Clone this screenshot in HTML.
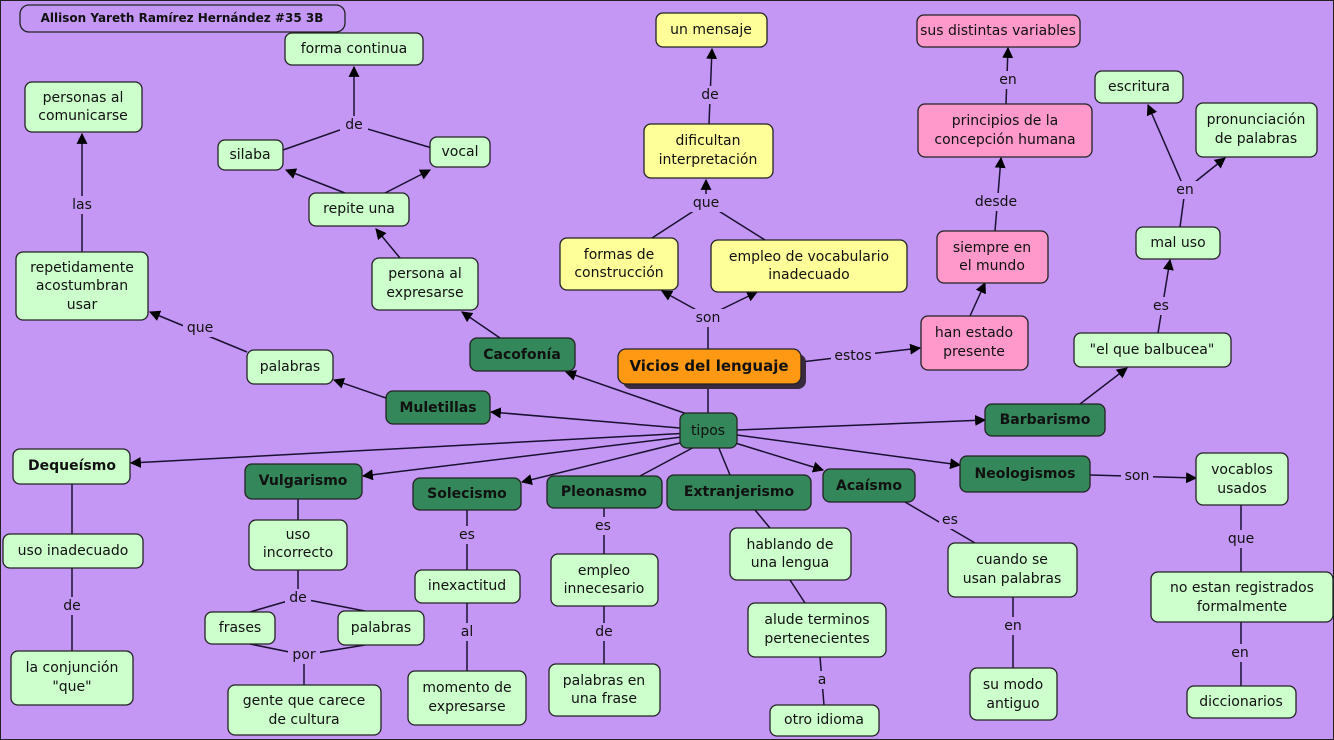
<!DOCTYPE html>
<html><head><meta charset="utf-8"><style>
html,body{margin:0;padding:0;background:#c497f5;}
svg{display:block}
text{font-family:"DejaVu Sans","Liberation Sans",sans-serif;font-size:14px;fill:#111;text-anchor:middle;dominant-baseline:central}
.b{font-weight:bold}
.l{fill:#c497f5}
</style></head><body>
<svg width="1334" height="740" viewBox="0 0 1334 740" xmlns="http://www.w3.org/2000/svg">
<defs><marker id="a" viewBox="0 0 10 10" refX="9" refY="5" markerWidth="11" markerHeight="11" markerUnits="userSpaceOnUse" orient="auto"><path d="M0,0L10,5L0,10z" fill="#000"/></marker></defs>
<rect x="0" y="0" width="1334" height="740" fill="#c497f5" stroke="#222" stroke-width="2"/>
<g stroke="#1a1030" stroke-width="1.5" fill="none">
<line x1="354" y1="125" x2="354" y2="67" marker-end="url(#a)"/>
<line x1="354" y1="125" x2="283" y2="150"/>
<line x1="354" y1="125" x2="432" y2="148"/>
<line x1="345" y1="193" x2="286" y2="170" marker-end="url(#a)"/>
<line x1="385" y1="193" x2="430" y2="170" marker-end="url(#a)"/>
<line x1="400" y1="258" x2="376" y2="229" marker-end="url(#a)"/>
<line x1="500" y1="338" x2="462" y2="312" marker-end="url(#a)"/>
<line x1="82" y1="252" x2="82" y2="134" marker-end="url(#a)"/>
<line x1="247" y1="352" x2="150" y2="312" marker-end="url(#a)"/>
<line x1="386" y1="398" x2="334" y2="380" marker-end="url(#a)"/>
<line x1="680" y1="428" x2="491" y2="412" marker-end="url(#a)"/>
<line x1="690" y1="415" x2="566" y2="372" marker-end="url(#a)"/>
<line x1="708" y1="384" x2="708" y2="413"/>
<line x1="708" y1="349" x2="708" y2="318"/>
<line x1="700" y1="312" x2="662" y2="291" marker-end="url(#a)"/>
<line x1="716" y1="312" x2="757" y2="292" marker-end="url(#a)"/>
<line x1="652" y1="238" x2="706" y2="203"/>
<line x1="765" y1="240" x2="706" y2="203"/>
<line x1="706" y1="203" x2="706" y2="180" marker-end="url(#a)"/>
<line x1="709" y1="124" x2="712" y2="49" marker-end="url(#a)"/>
<line x1="801" y1="362" x2="920" y2="348" marker-end="url(#a)"/>
<line x1="970" y1="316" x2="985" y2="283" marker-end="url(#a)"/>
<line x1="995" y1="231" x2="1001" y2="158" marker-end="url(#a)"/>
<line x1="1006" y1="104" x2="1008" y2="48" marker-end="url(#a)"/>
<line x1="737" y1="430" x2="985" y2="420" marker-end="url(#a)"/>
<line x1="1080" y1="404" x2="1127" y2="368" marker-end="url(#a)"/>
<line x1="1158" y1="333" x2="1170" y2="260" marker-end="url(#a)"/>
<line x1="1180" y1="227" x2="1185" y2="190"/>
<line x1="1185" y1="190" x2="1148" y2="105" marker-end="url(#a)"/>
<line x1="1185" y1="190" x2="1225" y2="158" marker-end="url(#a)"/>
<line x1="1090" y1="475" x2="1196" y2="478" marker-end="url(#a)"/>
<line x1="1241" y1="505" x2="1241" y2="572"/>
<line x1="1241" y1="622" x2="1241" y2="686"/>
<line x1="690" y1="433" x2="131" y2="463" marker-end="url(#a)"/>
<line x1="690" y1="436" x2="363" y2="476" marker-end="url(#a)"/>
<line x1="692" y1="440" x2="522" y2="482" marker-end="url(#a)"/>
<line x1="698" y1="445" x2="640" y2="476"/>
<line x1="718" y1="446" x2="730" y2="475"/>
<line x1="732" y1="442" x2="823" y2="470" marker-end="url(#a)"/>
<line x1="737" y1="435" x2="960" y2="465" marker-end="url(#a)"/>
<line x1="72" y1="484" x2="72" y2="534"/>
<line x1="72" y1="568" x2="72" y2="651"/>
<line x1="298" y1="499" x2="298" y2="520"/>
<line x1="298" y1="570" x2="298" y2="598"/>
<line x1="298" y1="598" x2="250" y2="612"/>
<line x1="298" y1="598" x2="365" y2="611"/>
<line x1="250" y1="644" x2="304" y2="655"/>
<line x1="365" y1="645" x2="304" y2="655"/>
<line x1="304" y1="655" x2="304" y2="685"/>
<line x1="467" y1="510" x2="467" y2="570"/>
<line x1="467" y1="603" x2="467" y2="671"/>
<line x1="604" y1="508" x2="604" y2="554"/>
<line x1="604" y1="606" x2="604" y2="664"/>
<line x1="755" y1="510" x2="770" y2="528"/>
<line x1="790" y1="580" x2="805" y2="603"/>
<line x1="820" y1="657" x2="824" y2="705"/>
<line x1="905" y1="502" x2="975" y2="543"/>
<line x1="1013" y1="597" x2="1013" y2="668"/>
</g>
<g>
<rect x="340" y="116" width="28" height="18" class="l"/><text x="354" y="125">de</text>
<rect x="68" y="196" width="28" height="18" class="l"/><text x="82" y="205">las</text>
<rect x="183" y="319" width="34" height="18" class="l"/><text x="200" y="328">que</text>
<rect x="692" y="309" width="32" height="18" class="l"/><text x="708" y="318">son</text>
<rect x="690" y="194" width="32" height="18" class="l"/><text x="706" y="203">que</text>
<rect x="697" y="86" width="26" height="18" class="l"/><text x="710" y="95">de</text>
<rect x="831" y="347" width="44" height="18" class="l"/><text x="853" y="356">estos</text>
<rect x="973" y="193" width="46" height="18" class="l"/><text x="996" y="202">desde</text>
<rect x="996" y="71" width="24" height="18" class="l"/><text x="1008" y="80">en</text>
<rect x="1150" y="297" width="22" height="18" class="l"/><text x="1161" y="306">es</text>
<rect x="1173" y="181" width="24" height="18" class="l"/><text x="1185" y="190">en</text>
<rect x="1121" y="467" width="32" height="18" class="l"/><text x="1137" y="476">son</text>
<rect x="1225" y="530" width="32" height="18" class="l"/><text x="1241" y="539">que</text>
<rect x="1228" y="644" width="24" height="18" class="l"/><text x="1240" y="653">en</text>
<rect x="59" y="597" width="26" height="18" class="l"/><text x="72" y="606">de</text>
<rect x="285" y="589" width="26" height="18" class="l"/><text x="298" y="598">de</text>
<rect x="288" y="646" width="32" height="18" class="l"/><text x="304" y="655">por</text>
<rect x="456" y="526" width="22" height="18" class="l"/><text x="467" y="535">es</text>
<rect x="456" y="623" width="22" height="18" class="l"/><text x="467" y="632">al</text>
<rect x="592" y="517" width="22" height="18" class="l"/><text x="603" y="526">es</text>
<rect x="591" y="623" width="26" height="18" class="l"/><text x="604" y="632">de</text>
<rect x="814" y="671" width="16" height="18" class="l"/><text x="822" y="680">a</text>
<rect x="939" y="511" width="22" height="18" class="l"/><text x="950" y="520">es</text>
<rect x="1001" y="617" width="24" height="18" class="l"/><text x="1013" y="626">en</text>
</g>
<g stroke="#222" stroke-width="1.3">
<rect x="20" y="5" width="325" height="27" rx="9" fill="#c497f5"/>
<g fill="#ccffcc">
<rect x="285" y="33" width="138" height="32" rx="7"/>
<rect x="25" y="82" width="117" height="50" rx="7"/>
<rect x="218" y="140" width="65" height="30" rx="7"/>
<rect x="430" y="137" width="60" height="30" rx="7"/>
<rect x="309" y="193" width="100" height="33" rx="7"/>
<rect x="16" y="252" width="132" height="68" rx="7"/>
<rect x="372" y="258" width="106" height="52" rx="7"/>
<rect x="247" y="350" width="86" height="34" rx="7"/>
<rect x="1074" y="333" width="157" height="34" rx="7"/>
<rect x="1136" y="227" width="84" height="32" rx="7"/>
<rect x="1095" y="71" width="88" height="32" rx="7"/>
<rect x="1196" y="103" width="121" height="54" rx="7"/>
<rect x="13" y="449" width="117" height="35" rx="7"/>
<rect x="1196" y="453" width="92" height="52" rx="7"/>
<rect x="3" y="534" width="140" height="34" rx="7"/>
<rect x="11" y="651" width="122" height="54" rx="7"/>
<rect x="249" y="520" width="98" height="50" rx="7"/>
<rect x="205" y="612" width="70" height="32" rx="7"/>
<rect x="338" y="611" width="86" height="34" rx="7"/>
<rect x="228" y="685" width="153" height="50" rx="7"/>
<rect x="415" y="570" width="105" height="33" rx="7"/>
<rect x="408" y="671" width="118" height="54" rx="7"/>
<rect x="551" y="554" width="107" height="52" rx="7"/>
<rect x="549" y="664" width="111" height="52" rx="7"/>
<rect x="730" y="528" width="121" height="52" rx="7"/>
<rect x="748" y="603" width="138" height="54" rx="7"/>
<rect x="770" y="705" width="109" height="31" rx="7"/>
<rect x="948" y="543" width="129" height="54" rx="7"/>
<rect x="970" y="668" width="87" height="52" rx="7"/>
<rect x="1151" y="572" width="182" height="50" rx="7"/>
<rect x="1187" y="686" width="109" height="32" rx="7"/>
</g>
<g fill="#ffff99">
<rect x="560" y="238" width="118" height="52" rx="7"/>
<rect x="711" y="240" width="196" height="52" rx="7"/>
<rect x="644" y="124" width="129" height="54" rx="7"/>
<rect x="656" y="13" width="111" height="34" rx="7"/>
</g>
<g fill="#ff99cc">
<rect x="921" y="316" width="107" height="54" rx="7"/>
<rect x="937" y="231" width="111" height="52" rx="7"/>
<rect x="918" y="104" width="174" height="53" rx="7"/>
<rect x="917" y="15" width="163" height="32" rx="7"/>
</g>
<g fill="#33875a">
<rect x="470" y="338" width="105" height="33" rx="7"/>
<rect x="386" y="391" width="104" height="33" rx="7"/>
<rect x="680" y="413" width="57" height="35" rx="7"/>
<rect x="985" y="404" width="120" height="32" rx="7"/>
<rect x="245" y="464" width="117" height="35" rx="7"/>
<rect x="413" y="478" width="108" height="32" rx="7"/>
<rect x="547" y="476" width="115" height="32" rx="7"/>
<rect x="667" y="475" width="144" height="35" rx="7"/>
<rect x="823" y="469" width="92" height="33" rx="7"/>
<rect x="960" y="456" width="130" height="36" rx="7"/>
</g>
<rect x="623" y="354" width="183" height="35" rx="8" fill="#3a2a40" stroke="none"/>
<rect x="618" y="349" width="183" height="35" rx="8" fill="#ff9914"/>
</g>
<g>
<text x="182" y="18" class="b" style="font-size:12px">Allison Yareth Ramírez Hernández #35 3B</text>
<text x="354" y="49">forma continua</text>
<text x="83" y="98">personas al</text><text x="83" y="116">comunicarse</text>
<text x="250" y="155">silaba</text>
<text x="460" y="152">vocal</text>
<text x="359" y="209">repite una</text>
<text x="82" y="268">repetidamente</text><text x="82" y="286">acostumbran</text><text x="82" y="305">usar</text>
<text x="425" y="274">persona al</text><text x="425" y="293">expresarse</text>
<text x="290" y="367">palabras</text>
<text x="1152" y="350">"el que balbucea"</text>
<text x="1178" y="243">mal uso</text>
<text x="1139" y="87">escritura</text>
<text x="1256" y="120">pronunciación</text><text x="1256" y="139">de palabras</text>
<text x="72" y="466" class="b">Dequeísmo</text>
<text x="1242" y="470">vocablos</text><text x="1242" y="489">usados</text>
<text x="73" y="551">uso inadecuado</text>
<text x="72" y="668">la conjunción</text><text x="72" y="687">"que"</text>
<text x="298" y="535">uso</text><text x="298" y="553">incorrecto</text>
<text x="240" y="628">frases</text>
<text x="381" y="628">palabras</text>
<text x="304" y="701">gente que carece</text><text x="304" y="720">de cultura</text>
<text x="467" y="586">inexactitud</text>
<text x="467" y="688">momento de</text><text x="467" y="707">expresarse</text>
<text x="604" y="571">empleo</text><text x="604" y="589">innecesario</text>
<text x="604" y="681">palabras en</text><text x="604" y="699">una frase</text>
<text x="790" y="545">hablando de</text><text x="790" y="563">una lengua</text>
<text x="817" y="620">alude terminos</text><text x="817" y="639">pertenecientes</text>
<text x="824" y="720">otro idioma</text>
<text x="1012" y="560">cuando se</text><text x="1012" y="579">usan palabras</text>
<text x="1013" y="685">su modo</text><text x="1013" y="704">antiguo</text>
<text x="1242" y="588">no estan registrados</text><text x="1242" y="607">formalmente</text>
<text x="1241" y="702">diccionarios</text>
<text x="619" y="255">formas de</text><text x="619" y="273">construcción</text>
<text x="809" y="257">empleo de vocabulario</text><text x="809" y="275">inadecuado</text>
<text x="708" y="141">dificultan</text><text x="708" y="160">interpretación</text>
<text x="711" y="30">un mensaje</text>
<text x="974" y="333">han estado</text><text x="974" y="352">presente</text>
<text x="992" y="248">siempre en</text><text x="992" y="266">el mundo</text>
<text x="1005" y="121">principios de la</text><text x="1005" y="140">concepción humana</text>
<text x="998" y="31">sus distintas variables</text>
<text x="522" y="355" class="b">Cacofonía</text>
<text x="438" y="408" class="b">Muletillas</text>
<text x="708" y="431">tipos</text>
<text x="1045" y="420" class="b">Barbarismo</text>
<text x="303" y="481" class="b">Vulgarismo</text>
<text x="467" y="494" class="b">Solecismo</text>
<text x="604" y="492" class="b">Pleonasmo</text>
<text x="739" y="492" class="b">Extranjerismo</text>
<text x="869" y="486" class="b">Acaísmo</text>
<text x="1025" y="474" class="b">Neologismos</text>
<text x="709" y="366" class="b" style="font-size:15px">Vicios del lenguaje</text>
</g>
</svg>
</body></html>
